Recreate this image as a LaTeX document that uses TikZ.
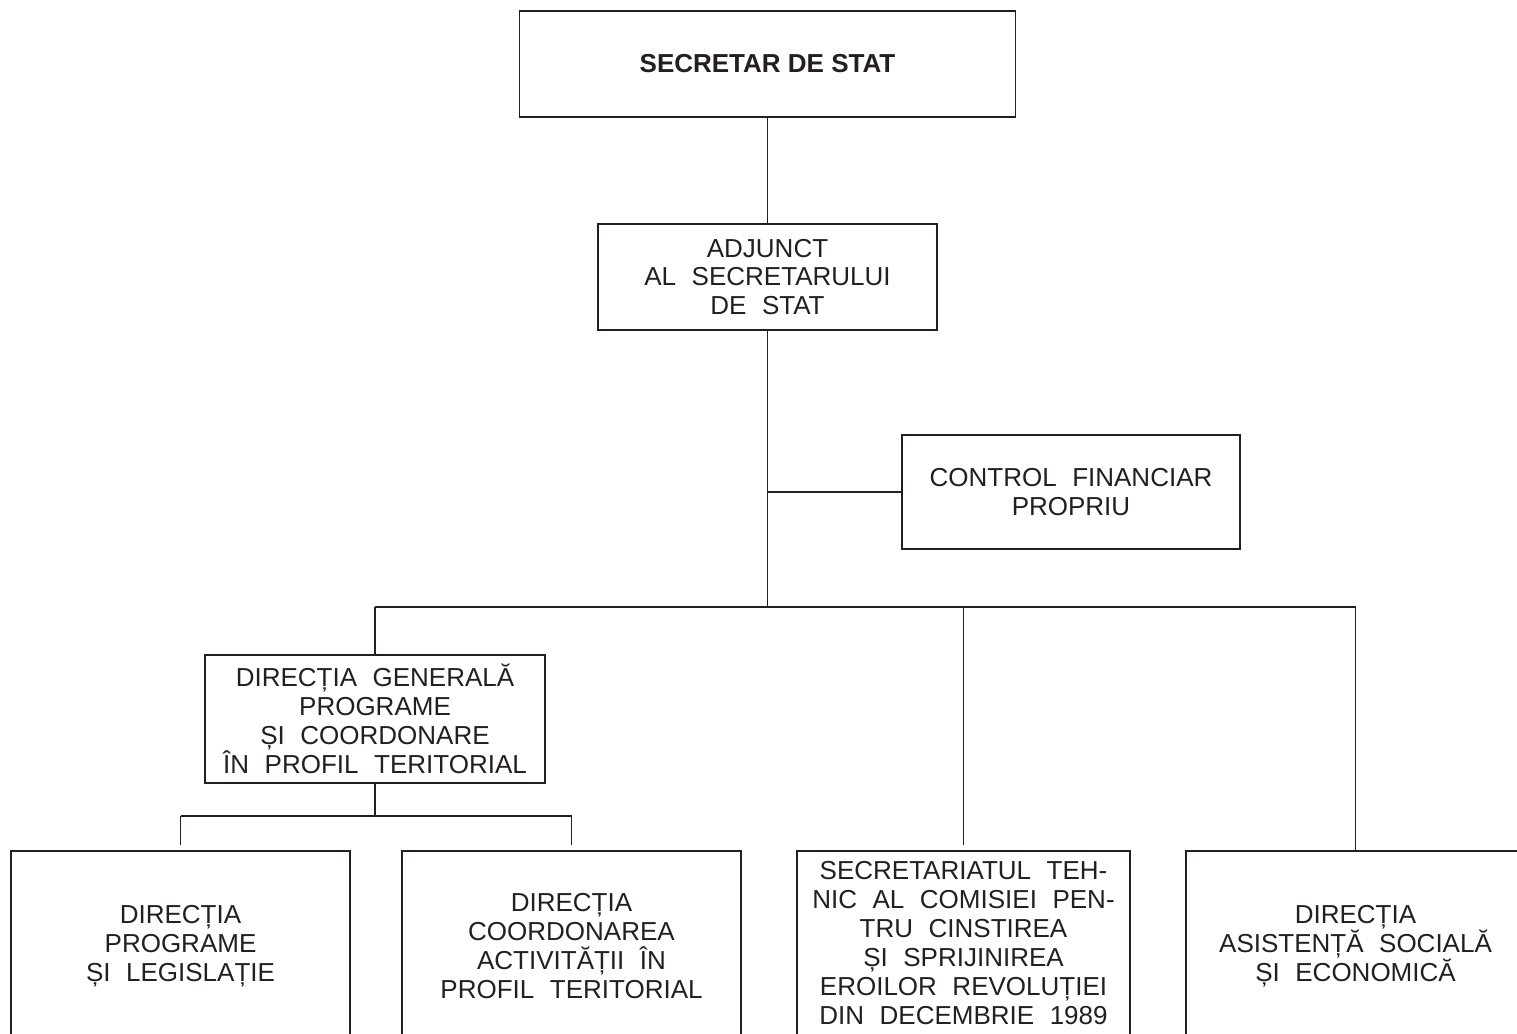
\documentclass[tikz,border=0pt]{standalone}
\usepackage{fontspec}
\setmainfont{Liberation Sans}
\newfontfamily\boxfont[WordSpace=2.15]{Liberation Sans}
\definecolor{ink}{HTML}{231F20}
\begin{document}
\begin{tikzpicture}[x=1pt,y=-1pt,line width=1.9pt,
  link/.style={draw=ink},
  box/.style={draw=ink,rectangle,inner sep=0pt,align=center,text=ink,
    font=\boxfont\fontsize{26}{28.9}\selectfont},
  bold box/.style={box,font=\bfseries\fontsize{26}{28.9}\selectfont}]
\useasboundingbox (0,0) rectangle (1517,1033);
\clip (0,0) rectangle (1517,1033);
\node[bold box,minimum width=496pt,minimum height=106pt] (top) at (767.5,64) {SECRETAR DE STAT};
\node[box,minimum width=339pt,minimum height=106pt] (adj) at (767.5,277) {ADJUNCT\\AL SECRETARULUI\\DE STAT};
\node[box,minimum width=338pt,minimum height=114pt] (ctrl) at (1071,492) {CONTROL FINANCIAR\\PROPRIU};
\node[box,minimum width=340pt,minimum height=128pt] (dg) at (375,719) {DIRECȚIA GENERALĂ\\PROGRAME\\ȘI COORDONARE\\ÎN PROFIL TERITORIAL};
\node[box,minimum width=339pt,minimum height=190pt] (b1) at (180.5,946) {DIRECȚIA\\PROGRAME\\ȘI LEGISLAȚIE};
\node[box,minimum width=339pt,minimum height=190pt] (b2) at (571.5,946) {DIRECȚIA\\COORDONAREA\\ACTIVITĂȚII ÎN\\PROFIL TERITORIAL};
\node[box,minimum width=333pt,minimum height=184pt] (b3) at (963.5,943) {SECRETARIATUL TEH-\\NIC AL COMISIEI PEN-\\TRU CINSTIREA\\ȘI SPRIJINIREA\\EROILOR REVOLUȚIEI\\DIN DECEMBRIE 1989};
\node[box,minimum width=339pt,minimum height=190pt] (b4) at (1355.5,946) {DIRECȚIA\\ASISTENȚĂ SOCIALĂ\\ȘI ECONOMICĂ};
\coordinate (bus) at (767,607);
\coordinate (sub) at (375,816);
\coordinate (jc) at (adj.south |- ctrl.west);
\draw[link] (top.south) -- (adj.north);
\draw[link] (adj.south) -- (adj.south |- bus);
\draw[link] (jc) -- (ctrl.west);
\draw[link] (dg.north |- bus) -- (b4.north |- bus);
\draw[link] (dg.north |- bus) -- (dg.north);
\draw[link,shorten >=5pt] (b3.north |- bus) -- (b3.north);
\draw[link] (b4.north |- bus) -- (b4.north);
\draw[link] (dg.south) -- (dg.south |- sub);
\draw[link] (b1.north |- sub) -- (b2.north |- sub);
\draw[link,shorten >=5pt] (b1.north |- sub) -- (b1.north);
\draw[link,shorten >=5pt] (b2.north |- sub) -- (b2.north);
\end{tikzpicture}
\end{document}
